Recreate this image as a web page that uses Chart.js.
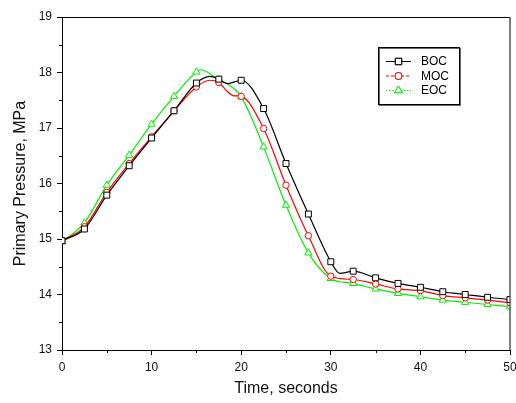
<!DOCTYPE html>
<html>
<head>
<meta charset="utf-8">
<script src="https://cdn.jsdelivr.net/npm/chart.js@4.4.1/dist/chart.umd.min.js"></script>
<style>
  html, body { margin: 0; padding: 0; background: #fff; }
  #wrap { width: 516px; height: 403px; }
</style>
</head>
<body>
<div id="wrap"><canvas id="pp"></canvas></div>
<script>
// values (time in s, pressure in MPa)
const bocTime = [0, 2.5, 5, 7.5, 10, 12.5, 15, 16.5, 17.5, 18.5, 20, 22.5, 25, 27.5, 30, 31, 32.5, 35, 37.5, 40, 42.5, 45, 47.5, 50];
const bocPressure = [14.97, 15.18, 15.79, 16.32, 16.82, 17.31, 17.81, 17.93, 17.88, 17.80, 17.86, 17.35, 16.36, 15.45, 14.59, 14.38, 14.42, 14.30, 14.20, 14.13, 14.05, 14.00, 13.95, 13.91];

const mocTime = [0, 2.5, 5, 7.5, 10, 12.5, 15, 16.5, 17.5, 18.5, 19.2, 20, 22.5, 25, 27.5, 30, 32.5, 35, 37.5, 40, 42.5, 45, 47.5, 50];
const mocPressure = [14.97, 15.22, 15.84, 16.36, 16.84, 17.31, 17.74, 17.86, 17.82, 17.65, 17.58, 17.57, 16.99, 15.97, 15.06, 14.33, 14.27, 14.19, 14.10, 14.07, 13.98, 13.94, 13.90, 13.85];

const eocTime = [0, 2.5, 5, 7.5, 10, 12.5, 15, 15.5, 17.5, 18.5, 20, 22.5, 25, 27.5, 30, 32.5, 35, 37.5, 40, 42.5, 45, 47.5, 50];
const eocPressure = [14.95, 15.29, 15.97, 16.51, 17.07, 17.57, 18.01, 18.05, 17.87, 17.79, 17.56, 16.66, 15.61, 14.75, 14.29, 14.20, 14.10, 14.02, 13.96, 13.90, 13.86, 13.82, 13.78];

const seriesNames = ['BOC', 'MOC', 'EOC'];
const xTicks = [0, 10, 20, 30, 40, 50];
const xMinor = [5, 15, 25, 35, 45];
const yTicks = [13, 14, 15, 16, 17, 18, 19];
const yMinor = [13.5, 14.5, 15.5, 16.5, 17.5, 18.5];

function pts(t, v) {
  return t.map((x, i) => ({ x: x, y: v[i] }));
}

// markers only every 2.5 s, the rest just shapes the curve
function markerSize(r) {
  return ctx => (ctx.raw && ctx.raw.x % 2.5 === 0 ? r : 0);
}

const styles = [
  { color: '#000000', point: 'rect', r: 4.2, dash: [] },
  { color: '#ff0000', point: 'circle', r: 3.2, dash: [3, 2] },
  { color: '#00ee00', point: 'triangle', r: 4.2, dash: [1.5, 1.5] }
];
const allData = [pts(bocTime, bocPressure), pts(mocTime, mocPressure), pts(eocTime, eocPressure)];

const datasets = allData.map((d, i) => ({
  label: seriesNames[i],
  data: d,
  borderColor: styles[i].color,
  borderWidth: 1.2,
  pointStyle: styles[i].point,
  pointRadius: markerSize(styles[i].r),
  pointBorderColor: styles[i].color,
  pointBackgroundColor: '#ffffff',
  pointBorderWidth: 1,
  cubicInterpolationMode: 'monotone',
  fill: false
}));

const framePlugin = {
  id: 'frame',
  afterDatasetsDraw(chart) {
    const c = chart.ctx;
    const a = chart.chartArea;
    const xs = chart.scales.x, ys = chart.scales.y;
    c.save();
    c.strokeStyle = '#000';
    c.lineWidth = 1;
    c.beginPath();
    c.moveTo(a.left, a.top + 0.5);
    c.lineTo(a.right, a.top + 0.5);
    c.stroke();
    c.strokeStyle = '#555';
    c.lineWidth = 1.5;
    c.beginPath();
    c.moveTo(a.right, a.top);
    c.lineTo(a.right, a.bottom);
    c.stroke();
    // minor ticks
    c.strokeStyle = '#000';
    c.lineWidth = 1;
    c.beginPath();
    xMinor.forEach(v => {
      const px = Math.round(xs.getPixelForValue(v)) + 0.5;
      c.moveTo(px, a.bottom);
      c.lineTo(px, a.bottom + 3);
    });
    yMinor.forEach(v => {
      const py = Math.round(ys.getPixelForValue(v)) + 0.5;
      c.moveTo(a.left, py);
      c.lineTo(a.left - 3, py);
    });
    c.stroke();

    // legend box
    const bx = 378, by = 47, bw = 81, bh = 57;
    c.fillStyle = '#fff';
    c.fillRect(bx, by, bw, bh);
    c.strokeStyle = '#666';
    c.lineWidth = 1;
    c.strokeRect(bx + 1.5, by + 1.5, bw, bh);
    c.strokeStyle = '#000';
    c.strokeRect(bx + 0.5, by + 0.5, bw, bh);
    const rows = [61, 75.5, 90];
    c.font = '12px "Liberation Sans", Arial, sans-serif';
    c.textBaseline = 'middle';
    rows.forEach((y, i) => {
      const s = styles[i];
      c.strokeStyle = s.color;
      c.lineWidth = 1;
      c.setLineDash(s.dash);
      c.beginPath();
      c.moveTo(386, y + 0.5);
      c.lineTo(411, y + 0.5);
      c.stroke();
      c.setLineDash([]);
      Chart.helpers.drawPoint(c, { pointStyle: s.point, radius: s.r + 0.3, borderWidth: 1 }, 398.5, y + 0.5);
      c.fillStyle = '#fff';
      c.fill();
      c.stroke();
      c.fillStyle = '#000';
      c.fillText(seriesNames[i], 421, y + 1);
    });
    c.restore();
  }
};

const ctxPP = document.getElementById('pp').getContext('2d');
const ppChart = new Chart(ctxPP, {
  type: 'line',
  data: { datasets: datasets },
  plugins: [framePlugin],
  options: {
    responsive: true,
    maintainAspectRatio: false,
    animation: false,
    events: [],
    layout: { padding: { top: 17, right: 0, left: 0, bottom: 0 } },
    plugins: { legend: { display: false }, tooltip: { enabled: false } },
    scales: {
      x: {
        type: 'linear',
        min: 0,
        max: 50,
        afterBuildTicks: s => { s.ticks = xTicks.map(v => ({ value: v })); },
        afterFit: s => { s.height = 53; s.paddingLeft = 0; s.paddingRight = 6; },
        grid: { drawOnChartArea: false, tickLength: 5, tickColor: '#000' },
        border: { color: '#000', width: 1 },
        ticks: { color: '#111', padding: 5, maxRotation: 0, font: { family: '"Liberation Sans", Arial', size: 12 } },
        title: { display: true, text: 'Time, seconds', color: '#111', padding: { top: 5, bottom: 5 }, font: { family: '"Liberation Sans", Arial', size: 16 } }
      },
      y: {
        min: 13,
        max: 19,
        afterBuildTicks: s => { s.ticks = yTicks.map(v => ({ value: v })); },
        afterFit: s => { s.width = 62; },
        grid: { drawOnChartArea: false, tickLength: 5, tickColor: '#000' },
        border: { color: '#000', width: 1 },
        ticks: { color: '#111', padding: 5, font: { family: '"Liberation Sans", Arial', size: 12 } },
        title: { display: true, text: 'Primary Pressure, MPa', color: '#111', padding: { top: 11, bottom: 0 }, font: { family: '"Liberation Sans", Arial', size: 16 } }
      }
    }
  }
});
</script>
</body>
</html>
